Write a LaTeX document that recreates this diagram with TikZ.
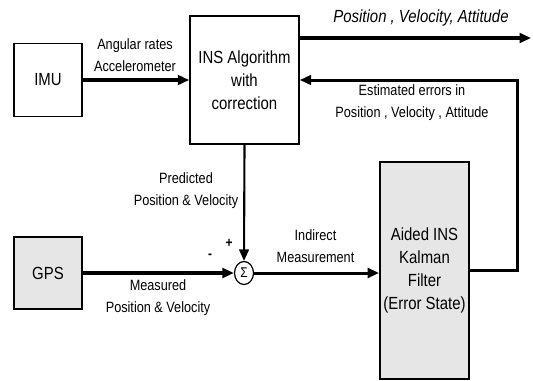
\documentclass[tikz,border=0pt]{standalone}
\usepackage{fontspec}
\setmainfont{Liberation Sans}
\newfontfamily\narrowsf[FakeStretch=0.85]{Liberation Sans}
\usetikzlibrary{arrows.meta, positioning, shapes.geometric, calc}
\definecolor{cstipple}{HTML}{E6E6E6}
\tikzset{
  every picture/.style={font=\narrowsf, line width=0.8pt},
  block/.style={draw, fill=#1, line width=0.9pt, align=center, inner sep=2pt, font=\narrowsf\fontsize{10}{13}\selectfont},
  block/.default=white,
  arrow/.style={-{Triangle[length=6.5pt, width=5.5pt]}, line width=#1},
  arrow/.default=1.7pt,
  lbl/.style={font=\narrowsf\fontsize{8.5}{12.5}\selectfont, align=center, inner sep=0pt},
  sign/.style={font=\narrowsf\bfseries\fontsize{8}{8}\selectfont, inner sep=0pt},
}

\begin{document}
\begin{tikzpicture}[x=0.02cm, y=-0.02cm]
  \useasboundingbox (0,0) rectangle (533,380);
  % blocks
  \node[block, minimum width=1.36cm, minimum height=1.46cm] (imu) at (48,80) {IMU};
  \node[block, minimum width=2.18cm, minimum height=2.56cm] (ins) at (244.5,80) {INS Algorithm\\with\\correction};
  \node[block=cstipple, minimum width=1.36cm, minimum height=1.44cm] (gps) at (48,273) {GPS};
  \node[block=cstipple, minimum width=1.78cm, minimum height=4.34cm] (kf) at (424.5,270.5) {Aided INS\\Kalman\\Filter\\(Error State)};
  \node[draw, ellipse, line width=0.7pt, minimum width=0.38cm, minimum height=0.46cm, inner sep=0pt, font=\narrowsf\fontsize{8}{8}\selectfont] (sum) at (244,273) {Σ};
  % end points
  \coordinate (out) at (531,38);
  \coordinate (fb) at (517,80);
  % connectors
  \draw[arrow=2.2pt] (imu.east) -- (ins.west);
  \draw[arrow=1.8pt] (ins.east |- out) -- (out);
  \draw[arrow] (kf.east) -| (fb) -- (ins.east);
  \draw[arrow=1.2pt] (ins.south) -- (sum.north);
  \draw[arrow=1.8pt] (gps.east) -- (sum.west);
  \draw[arrow] (sum.east) -- (kf.west |- sum);
  % labels
  \node[lbl] (l_imu) at (135,55) {Angular rates\\Accelerometer};
  \node[lbl, font=\narrowsf\itshape\fontsize{10}{12}\selectfont] (l_out) at (421,18) {Position , Velocity, Attitude};
  \node[lbl] (l_fb) at (412,103) {Estimated errors in\\Position , Velocity , Attitude};
  \node[lbl] (l_pred) at (186,191) {Predicted\\Position \& Velocity};
  \node[lbl] (l_meas) at (158,297.5) {Measured\\Position \& Velocity};
  \node[lbl] (l_ind) at (315.5,246.5) {Indirect\\Measurement};
  \node[sign] (plus) at (229,243) {+};
  \node[sign] (minus) at (210,256) {-};
\end{tikzpicture}
\end{document}
